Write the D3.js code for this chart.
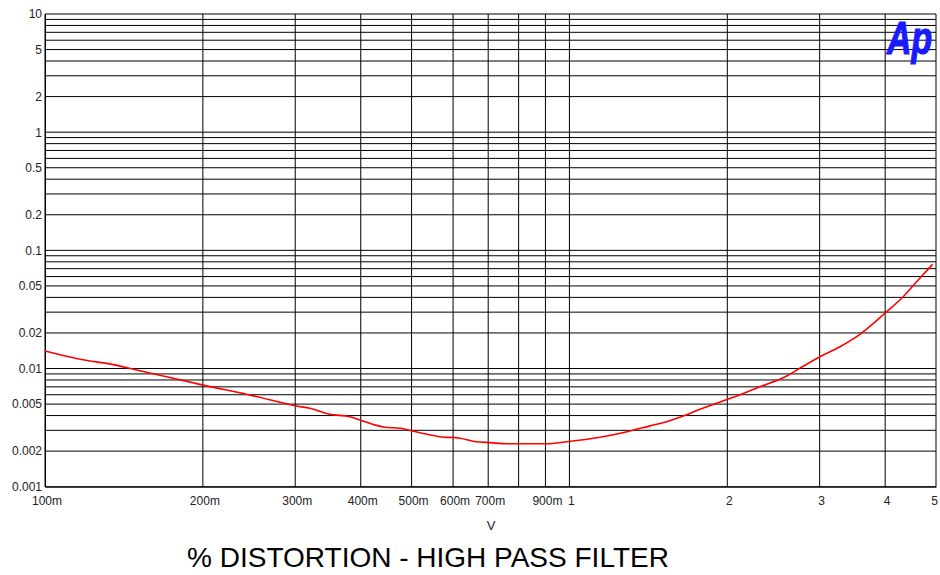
<!DOCTYPE html>
<html><head><meta charset="utf-8">
<script src="https://cdn.jsdelivr.net/npm/d3@7"></script>
<style>body{margin:0;background:#fff}svg{display:block}</style>
</head><body>
<svg id="c" width="940" height="575"></svg>
<script>
const voltage = [0.1,0.1218,0.1311,0.1517,0.2003,0.2486,0.302,0.320,0.349,0.3815,0.3985,0.4448,0.4752,0.5188,0.5663,0.6183,0.6655,0.7053,0.7593,0.905,0.988,1.144,1.276,1.424,1.532,1.648,1.774,1.908,2.084,2.308,2.596,2.712,3.004,3.28,3.58,4.025,4.329,4.592,4.925];
const distortion = [0.01406,0.01157,0.01106,0.00958,0.00724,0.0059,0.00482,0.00461,0.0041,0.00391,0.00367,0.00318,0.00312,0.00286,0.00265,0.00257,0.0024,0.00236,0.00231,0.00231,0.0024,0.00262,0.00289,0.00327,0.00355,0.00396,0.00452,0.00508,0.00585,0.00701,0.00864,0.0097,0.01259,0.01529,0.01947,0.03024,0.0405,0.0542,0.0761];
const xTickValues = [0.1,0.2,0.3,0.4,0.5,0.6,0.7,0.9,1,2,3,4,5];
const xTickLabels = ["100m","200m","300m","400m","500m","600m","700m","900m","1","2","3","4","5"];
const xGridValues = [0.1,0.2,0.3,0.4,0.5,0.6,0.7,0.8,0.9,1,2,3,4,5];
const yTickValues = [10,5,2,1,0.5,0.2,0.1,0.05,0.02,0.01,0.005,0.002,0.001];
const yTickLabels = ["10","5","2","1","0.5","0.2","0.1","0.05","0.02","0.01","0.005","0.002","0.001"];
const xAxisTitle = "V";
const chartTitle = "% DISTORTION - HIGH PASS FILTER";

const svg = d3.select("#c");
const L = 45, R = 936, T = 14, B = 486.7;
const x = d3.scaleLog().domain([0.1,5]).range([L,R]);
const y = d3.scaleLog().domain([0.001,10]).range([B,T]);

// horizontal grid: every 1..9 in each decade
const yGrid = [];
for (let e=-3; e<1; e++) for (let m=1; m<10; m++) yGrid.push(m*Math.pow(10,e));
yGrid.push(10);

const font = "Liberation Sans, Arial, sans-serif";
const g = svg.append("g");
g.selectAll("line.h").data(yGrid).join("line").attr("class","h")
  .attr("x1",L).attr("x2",R).attr("y1",d=>y(d)).attr("y2",d=>y(d))
  .attr("stroke","#000").attr("stroke-width",1);
g.selectAll("line.v").data(xGridValues).join("line").attr("class","v")
  .attr("x1",d=>x(d)).attr("x2",d=>x(d)).attr("y1",T).attr("y2",B)
  .attr("stroke","#000").attr("stroke-width",1);

// axes
const yAxis = d3.axisLeft(y).tickValues(yTickValues).tickSize(0).tickPadding(3)
  .tickFormat((d,i)=>yTickLabels[i]);
const ya = svg.append("g").attr("transform",`translate(${L},0)`).call(yAxis);
ya.select(".domain").attr("stroke","#000");
ya.selectAll("text").attr("font-family",font).attr("font-size",12).attr("fill","#222");

const xAxis = d3.axisBottom(x).tickValues(xTickValues).tickSize(0).tickPadding(10)
  .tickFormat((d,i)=>xTickLabels[i]);
const xa = svg.append("g").attr("transform",`translate(0,${B})`).call(xAxis);
xa.select(".domain").attr("stroke","#000");
xa.selectAll("text").attr("font-family",font).attr("font-size",12).attr("fill","#222")
  .attr("dx",(d,i)=> i===xTickValues.length-1 ? -2 : 1.5);

// curve
const pts = voltage.map((v,i)=>[v,distortion[i]]);
svg.append("path").datum(pts)
  .attr("d", d3.line().x(d=>x(d[0])).y(d=>y(d[1])).curve(d3.curveMonotoneX))
  .attr("fill","none").attr("stroke","#ff0000").attr("stroke-width",1.6);

// labels
svg.append("text").attr("x",491).attr("y",530).attr("text-anchor","middle")
  .attr("font-family",font).attr("font-size",13).attr("fill","#222").text(xAxisTitle);
svg.append("text").attr("x",428).attr("y",567).attr("text-anchor","middle")
  .attr("font-family",font).attr("font-size",28).attr("fill","#000").text(chartTitle);

// Ap logo
svg.append("text").attr("transform","translate(887,54) scale(0.72,1)")
  .attr("font-family",font).attr("font-size",47).attr("font-weight","bold").attr("font-style","italic")
  .attr("fill","#1a1aff").attr("stroke","#1a1aff").attr("stroke-width",1.2)
  .text("Ap");
</script>
</body></html>
